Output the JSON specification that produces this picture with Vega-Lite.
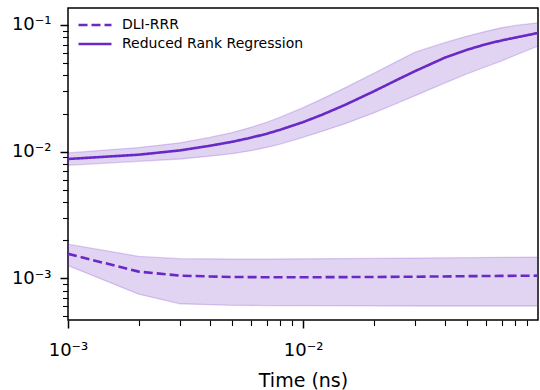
{
  "$schema": "https://vega.github.io/schema/vega-lite/v6.json",
  "width": 470,
  "height": 312,
  "autosize": {"type": "none"},
  "padding": {"left": 68, "top": 8, "right": 2, "bottom": 70},
  "background": "white",
  "config": {"view": {"stroke": "black", "strokeWidth": 1.5}, "font": "DejaVu Sans"},
  "data": {"values": [
    {"series": "Reduced Rank Regression", "t": 0.001, "mean": 0.008750, "lo": 0.007798, "hi": 0.009772},
    {"series": "Reduced Rank Regression", "t": 0.002, "mean": 0.009462, "lo": 0.008395, "hi": 0.010765},
    {"series": "Reduced Rank Regression", "t": 0.003, "mean": 0.010233, "lo": 0.008750, "hi": 0.011749},
    {"series": "Reduced Rank Regression", "t": 0.004, "mean": 0.011117, "lo": 0.009204, "hi": 0.012942},
    {"series": "Reduced Rank Regression", "t": 0.005, "mean": 0.011967, "lo": 0.009638, "hi": 0.014158},
    {"series": "Reduced Rank Regression", "t": 0.006, "mean": 0.012882, "lo": 0.010186, "hi": 0.015560},
    {"series": "Reduced Rank Regression", "t": 0.007, "mean": 0.013836, "lo": 0.010789, "hi": 0.017061},
    {"series": "Reduced Rank Regression", "t": 0.008, "mean": 0.014894, "lo": 0.011482, "hi": 0.018707},
    {"series": "Reduced Rank Regression", "t": 0.010, "mean": 0.017100, "lo": 0.012972, "hi": 0.022233},
    {"series": "Reduced Rank Regression", "t": 0.012, "mean": 0.019498, "lo": 0.014454, "hi": 0.026002},
    {"series": "Reduced Rank Regression", "t": 0.015, "mean": 0.023281, "lo": 0.016558, "hi": 0.031769},
    {"series": "Reduced Rank Regression", "t": 0.020, "mean": 0.029923, "lo": 0.020230, "hi": 0.041591},
    {"series": "Reduced Rank Regression", "t": 0.025, "mean": 0.036728, "lo": 0.023988, "hi": 0.051404},
    {"series": "Reduced Rank Regression", "t": 0.030, "mean": 0.043251, "lo": 0.027669, "hi": 0.060954},
    {"series": "Reduced Rank Regression", "t": 0.040, "mean": 0.055081, "lo": 0.034754, "hi": 0.072444},
    {"series": "Reduced Rank Regression", "t": 0.050, "mean": 0.063826, "lo": 0.041210, "hi": 0.081658},
    {"series": "Reduced Rank Regression", "t": 0.060, "mean": 0.070469, "lo": 0.046774, "hi": 0.089125},
    {"series": "Reduced Rank Regression", "t": 0.070, "mean": 0.075509, "lo": 0.052119, "hi": 0.095060},
    {"series": "Reduced Rank Regression", "t": 0.080, "mean": 0.079433, "lo": 0.057677, "hi": 0.099083},
    {"series": "Reduced Rank Regression", "t": 0.0999, "mean": 0.086497, "lo": 0.068234, "hi": 0.103992},
    {"series": "DLI-RRR", "t": 0.001, "mean": 0.00156, "lo": 0.00126, "hi": 0.00186},
    {"series": "DLI-RRR", "t": 0.002, "mean": 0.00113, "lo": 0.00075, "hi": 0.00149},
    {"series": "DLI-RRR", "t": 0.003, "mean": 0.00105, "lo": 0.00063, "hi": 0.00143},
    {"series": "DLI-RRR", "t": 0.004, "mean": 0.001035, "lo": 0.00062, "hi": 0.001425},
    {"series": "DLI-RRR", "t": 0.005, "mean": 0.001025, "lo": 0.000612, "hi": 0.00142},
    {"series": "DLI-RRR", "t": 0.007, "mean": 0.00102, "lo": 0.00061, "hi": 0.00142},
    {"series": "DLI-RRR", "t": 0.010, "mean": 0.00102, "lo": 0.000608, "hi": 0.001425},
    {"series": "DLI-RRR", "t": 0.020, "mean": 0.001025, "lo": 0.000606, "hi": 0.001435},
    {"series": "DLI-RRR", "t": 0.030, "mean": 0.00103, "lo": 0.000605, "hi": 0.001445},
    {"series": "DLI-RRR", "t": 0.050, "mean": 0.00104, "lo": 0.000605, "hi": 0.001455},
    {"series": "DLI-RRR", "t": 0.070, "mean": 0.001045, "lo": 0.000605, "hi": 0.001465},
    {"series": "DLI-RRR", "t": 0.0999, "mean": 0.00105, "lo": 0.000605, "hi": 0.00147}
  ]},
  "encoding": {
    "x": {
      "field": "t", "type": "quantitative",
      "scale": {"type": "log", "domain": [0.001, 0.0999], "nice": false},
      "axis": {
        "values": [0.001, 0.002, 0.003, 0.004, 0.005, 0.006, 0.007, 0.008, 0.009, 0.01, 0.02, 0.03, 0.04, 0.05, 0.06, 0.07, 0.08, 0.09],
        "domain": false, "grid": false,
        "tickColor": "black",
        "tickSize": {"condition": {"test": "abs(log(datum.value)/LN10 - round(log(datum.value)/LN10)) < 0.01", "value": 8}, "value": 5.5},
        "tickWidth": {"condition": {"test": "abs(log(datum.value)/LN10 - round(log(datum.value)/LN10)) < 0.01", "value": 1.5}, "value": 1.1},
        "labelExpr": "abs(log(datum.value)/LN10 - round(log(datum.value)/LN10)) < 0.01 ? (round(log(datum.value)/LN10) == -1 ? '10⁻¹' : round(log(datum.value)/LN10) == -2 ? '10⁻²' : '10⁻³') : ''",
        "labelFont": "DejaVu Sans", "labelFontSize": 18, "labelColor": "black",
        "labelOverlap": false, "labelFlush": false, "labelBound": false,
        "labelBaseline": "alphabetic", "labelPadding": 27,
        "title": "Time (ns)", "titleFont": "DejaVu Sans", "titleFontSize": 19, "titleFontWeight": "normal", "titleColor": "black",
        "titleBaseline": "alphabetic", "titleY": 66.5
      }
    }
  },
  "layer": [
    {
      "mark": {"type": "area", "fill": "#6929c4", "fillOpacity": 0.2, "stroke": "#6929c4", "strokeOpacity": 0.22, "strokeWidth": 1.3, "clip": true},
      "encoding": {
        "y": {
          "field": "lo", "type": "quantitative",
          "scale": {"type": "log", "domain": [0.000469, 0.1361], "nice": false},
          "axis": {
            "values": [0.0005, 0.0006, 0.0007, 0.0008, 0.0009, 0.001, 0.002, 0.003, 0.004, 0.005, 0.006, 0.007, 0.008, 0.009, 0.01, 0.02, 0.03, 0.04, 0.05, 0.06, 0.07, 0.08, 0.09, 0.1],
            "domain": false, "grid": false,
            "tickColor": "black",
            "tickSize": {"condition": {"test": "abs(log(datum.value)/LN10 - round(log(datum.value)/LN10)) < 0.01", "value": 8}, "value": 5.5},
            "tickWidth": {"condition": {"test": "abs(log(datum.value)/LN10 - round(log(datum.value)/LN10)) < 0.01", "value": 1.5}, "value": 1.1},
            "labelExpr": "abs(log(datum.value)/LN10 - round(log(datum.value)/LN10)) < 0.01 ? (round(log(datum.value)/LN10) == -1 ? '10⁻¹' : round(log(datum.value)/LN10) == -2 ? '10⁻²' : '10⁻³') : ''",
            "labelFont": "DejaVu Sans", "labelFontSize": 18, "labelColor": "black",
            "labelOverlap": false, "labelFlush": false, "labelBound": false,
            "labelPadding": 9,
            "title": null
          }
        },
        "y2": {"field": "hi"},
        "detail": {"field": "series"}
      }
    },
    {
      "mark": {"type": "line", "color": "#6929c4", "strokeWidth": 2.6, "clip": true},
      "encoding": {
        "y": {"field": "mean", "type": "quantitative", "scale": {"type": "log", "domain": [0.000469, 0.1361], "nice": false}},
        "strokeDash": {
          "field": "series", "type": "nominal",
          "scale": {"domain": ["DLI-RRR", "Reduced Rank Regression"], "range": [[9, 4], [1, 0]]},
          "legend": {
            "title": null, "orient": "none", "legendX": 15, "legendY": 5,
            "symbolType": "M-1.6,0H1.6", "symbolSize": 425,
            "symbolStrokeColor": "#6929c4", "symbolStrokeWidth": 2.6, "symbolFillColor": "transparent",
            "labelFont": "DejaVu Sans", "labelFontSize": 14, "labelColor": "black", "labelLimit": 400,
            "labelOffset": 15, "rowPadding": -2, "padding": 0
          }
        }
      }
    }
  ]
}
